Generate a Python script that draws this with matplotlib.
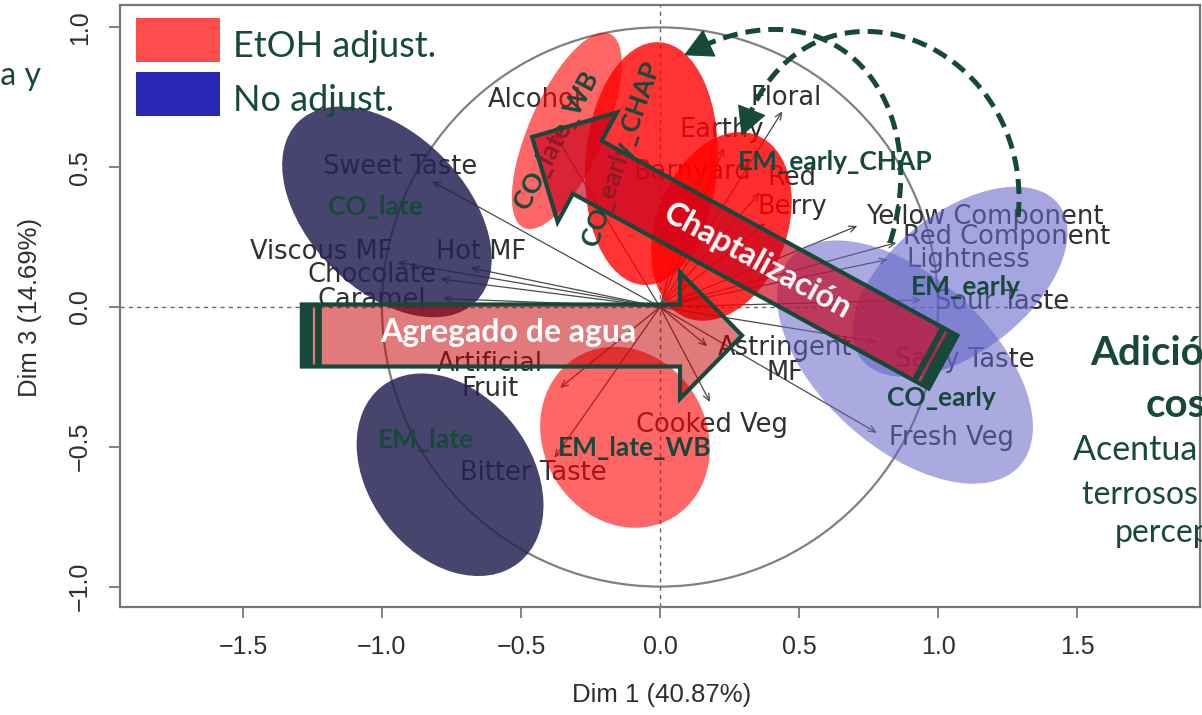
"""PCA biplot (Dim 1 vs Dim 3) with treatment ellipses and annotations."""

import matplotlib

matplotlib.use("Agg")
import matplotlib.pyplot as plt
import numpy as np
from matplotlib.patches import Circle, Ellipse, Polygon, Rectangle

GREEN = "#17493a"
SANS = "Lato"

# sensory / colour variables: arrow tips and label anchors
var_names = [
    "Sweet Taste", "Viscous MF", "Hot MF", "Chocolate", "Caramel", "Alcohol",
    "Floral", "Earthy", "Barnyard", "Red", "Berry", "Yellow Component",
    "Red Component", "Lightness", "Sour Taste", "Salty Taste", "Fresh Veg",
    "Astringent\nMF", "Artificial\nFruit", "Cooked Veg", "Bitter Taste",
]
var_x = [-0.82, -0.945, -0.68, -0.79, -0.78, -0.38, 0.44, 0.23, 0.12, 0.36, 0.38,
         0.71, 0.85, 0.82, 0.94, 0.78, 0.78, 0.17, -0.36, 0.18, -0.38]
var_y = [0.45, 0.16, 0.14, 0.10, 0.03, 0.62, 0.70, 0.57, 0.43, 0.41, 0.30,
         0.29, 0.23, 0.17, 0.025, -0.125, -0.45, -0.14, -0.29, -0.34, -0.54]
lab_x = [-0.935, -1.22, -0.644, -1.036, -1.036, -0.45, 0.453, 0.223, 0.115, 0.475, 0.475,
         1.169, 1.245, 1.108, 1.23, 1.097, 1.047, 0.45, -0.612, 0.187, -0.457]
lab_y = [0.50, 0.197, 0.197, 0.115, 0.025, 0.74, 0.747, 0.634, 0.483, 0.462, 0.358,
         0.322, 0.25, 0.168, 0.018, -0.19, -0.469, -0.19, -0.25, -0.422, -0.594]

# confidence ellipses of the wine groups
groups = ["CO_late", "EM_late", "CO_late_WB", "CO_early_CHAP",
          "EM_early_CHAP", "EM_late_WB", "EM_early", "CO_early"]
ell_x = [-0.982, -0.755, -0.335, -0.031, 0.221, -0.126, 1.079, 0.881]
ell_y = [0.340, -0.600, 0.630, 0.513, 0.288, -0.466, 0.090, -0.197]
ell_w = [0.906, 0.80, 0.76, 0.87, 0.70, 0.67, 0.90, 1.11]
ell_h = [0.561, 0.58, 0.27, 0.475, 0.47, 0.585, 0.50, 0.61]
ell_angle = [-45, -52, 66, 86, 69, -58, 38, -42]
ell_color = ["#272355", "#272355", "#ff0000", "#ff0000",
             "#ff0000", "#ff0000", "#6464c8", "#6464c8"]
ell_alpha = [0.85, 0.85, 0.60, 0.80, 0.82, 0.60, 0.58, 0.55]
grp_lab_x = [-1.025, -0.842, -0.374, -0.14, 0.629, -0.09, 1.101, 1.011]
grp_lab_y = [0.358, -0.476, 0.597, 0.55, 0.519, -0.505, 0.072, -0.326]
grp_lab_rot = [0, 0, 62, 71, 0, 0, 0, 0]

legend_labels = ["EtOH adjust.", "No adjust."]
legend_colors = ["#ff4c4c", "#2828b4"]

xticks = [-1.5, -1.0, -0.5, 0.0, 0.5, 1.0, 1.5]
yticks = [-1.0, -0.5, 0.0, 0.5, 1.0]


def fig_px(fig, x, y):
    w, h = fig.get_size_inches() * fig.dpi
    return x / w, 1 - y / h


def block_arrow(ax, tail, tip, half_w, head_half_w, head_len, face, text, text_xy):
    t = np.array(tail)
    p = np.array(tip)
    d = (p - t) / np.linalg.norm(p - t)
    n = np.array([-d[1], d[0]])
    base = p - d * head_len
    pts = [t + n * half_w, base + n * half_w, base + n * head_half_w, p,
           base - n * head_half_w, base - n * half_w, t - n * half_w]
    ax.add_patch(Polygon(pts, closed=True, fc=face, ec=GREEN, lw=3, zorder=5,
                         joinstyle="miter"))
    # striped tail
    for s0, s1 in [(0.0, 0.036), (0.049, 0.068)]:
        q = [t + d * s0 + n * half_w, t + d * s1 + n * half_w,
             t + d * s1 - n * half_w, t + d * s0 - n * half_w]
        ax.add_patch(Polygon(q, closed=True, fc=GREEN, ec=GREEN, lw=0.5, zorder=5.1))
    ang = np.degrees(np.arctan2(d[1], d[0]))
    if abs(ang) > 90:
        ang -= 180 * np.sign(ang)
    ax.text(*text_xy, text, ha="center", va="center", rotation=ang,
            rotation_mode="anchor", color="white", fontsize=23, fontweight="bold",
            family=SANS, zorder=6)


def bezier(p0, p1, p2, p3, t):
    t = np.asarray(t)[:, None]
    return ((1 - t) ** 3 * np.array(p0) + 3 * (1 - t) ** 2 * t * np.array(p1)
            + 3 * (1 - t) * t ** 2 * np.array(p2) + t ** 3 * np.array(p3))


def dashed_arc(ax, ctrl, head_len=0.095, head_half=0.05):
    pts = bezier(*ctrl, np.linspace(0, 1, 200))
    tip = np.array(ctrl[3])
    dist = np.linalg.norm(pts - tip, axis=1)
    body = pts[dist > head_len * 0.9]
    ax.plot(body[:, 0], body[:, 1], color=GREEN, lw=3.6, dashes=(3, 1.6),
            zorder=7, clip_on=False, dash_capstyle="butt")
    ref = pts[np.argmin(np.abs(dist - head_len))]
    d = (tip - ref) / np.linalg.norm(tip - ref)
    n = np.array([-d[1], d[0]])
    base = tip - d * head_len
    ax.add_patch(Polygon([tip, base + n * head_half, base - n * head_half], closed=True,
                         fc=GREEN, ec=GREEN, lw=0.8, zorder=7, clip_on=False))


def main() -> None:
    fig = plt.figure(figsize=(12.02, 7.15), dpi=100)
    ax = fig.add_axes([120 / 1202, 108 / 715, 1080 / 1202, 602 / 715])
    ax.set_xlim(-1.942, 1.942)
    ax.set_ylim(-1.073, 1.080)

    for sp in ax.spines.values():
        sp.set_color("#777777")
        sp.set_linewidth(1.6)
    ax.set_xticks(xticks)
    ax.set_xticklabels([f"{v:.1f}".replace("-", "\u2212") for v in xticks],
                       family="Liberation Sans", fontsize=18, color="#2e2e2e")
    ax.set_yticks(yticks)
    ax.set_yticklabels([f"{v:.1f}".replace("-", "\u2212") for v in yticks],
                       family="Liberation Sans", fontsize=18, color="#2e2e2e",
                       rotation=90, va="center")
    ax.tick_params(length=8, width=1.3, color="#777777", pad=12)

    ax.add_patch(Circle((0, 0), 1, fill=False, ec="#808080", lw=1.6, zorder=1))
    ax.axhline(0, color="#666666", lw=1, ls=(0, (3, 3)), zorder=1)
    ax.axvline(0, color="#666666", lw=1, ls=(0, (3, 3)), zorder=1)

    for name, x, y, lx, ly in zip(var_names, var_x, var_y, lab_x, lab_y):
        ax.annotate("", xy=(x, y), xytext=(0, 0), zorder=2,
                    arrowprops=dict(arrowstyle="->,head_length=0.5,head_width=0.22",
                                    color="#4a4a4a", lw=0.9, shrinkA=0, shrinkB=0))
        ax.text(lx, ly, name, ha="center", va="center", fontsize=18.5,
                family="DejaVu Sans", color="#303030", linespacing=0.95, zorder=2)

    for i, g in enumerate(groups):
        ax.add_patch(Ellipse((ell_x[i], ell_y[i]), ell_w[i], ell_h[i], angle=ell_angle[i],
                             fc=ell_color[i], alpha=ell_alpha[i], ec="none", zorder=3))
        ax.text(grp_lab_x[i], grp_lab_y[i], g, ha="center", va="center",
                rotation=grp_lab_rot[i], rotation_mode="anchor", fontsize=19,
                fontweight="bold", family=SANS, color=GREEN, zorder=4)

    block_arrow(ax, (-1.288, -0.102), (0.295, -0.102), 0.111, 0.226, 0.223,
                (0.78, 0.0, 0.0, 0.52), "Agregado de agua", (-0.547, -0.093))
    block_arrow(ax, (1.018, -0.197), (-0.460, 0.608), 0.108, 0.223, 0.226,
                (0.78, 0.02, 0.12, 0.68), "Chaptalización", (0.352, 0.165))

    dashed_arc(ax, [(0.827, 0.229), (0.989, 0.741), (0.626, 1.191), (0.090, 0.902)])
    dashed_arc(ax, [(1.288, 0.322), (1.349, 0.973), (0.504, 1.277), (0.295, 0.615)])

    # legend drawn in figure pixels
    for i, (lab, col) in enumerate(zip(legend_labels, legend_colors)):
        top = 18 + 54 * i
        x0, y0 = fig_px(fig, 136, top + 44)
        x1, y1 = fig_px(fig, 220, top)
        fig.add_artist(Rectangle((x0, y0), x1 - x0, y1 - y0, transform=fig.transFigure,
                                 fc=col, ec="none", zorder=10))
        fig.text(*fig_px(fig, 233, top + 39), lab, ha="left", va="baseline",
                 fontsize=26, family=SANS, color=GREEN, zorder=10)

    fig.text(*fig_px(fig, 662, 695), "Dim 1 (40.87%)", ha="center", va="center",
             fontsize=18.5, family="Liberation Sans", color="#2e2e2e")
    fig.text(*fig_px(fig, 30, 307), "Dim 3 (14.69%)", ha="center", va="center",
             rotation=90, fontsize=18.5, family="Liberation Sans", color="#2e2e2e")

    # side texts cut by the figure edges
    fig.text(*fig_px(fig, 41, 85), "fruta y", ha="right", va="baseline",
             fontsize=23, family=SANS, color=GREEN)
    fig.text(*fig_px(fig, 1090, 365), "Adición de azúcar", ha="left", va="baseline",
             fontsize=29, fontweight="bold", family=SANS, color=GREEN)
    fig.text(*fig_px(fig, 1146, 417), "cosecha", ha="left", va="baseline",
             fontsize=29, fontweight="bold", family=SANS, color=GREEN)
    fig.text(*fig_px(fig, 1073, 460), "Acentua los", ha="left", va="baseline",
             fontsize=24.5, family=SANS, color=GREEN)
    fig.text(*fig_px(fig, 1082, 504), "terrosos y", ha="left", va="baseline",
             fontsize=23, family=SANS, color=GREEN)
    fig.text(*fig_px(fig, 1115, 542), "percepción", ha="left", va="baseline",
             fontsize=23, family=SANS, color=GREEN)

    fig.savefig("out.png", dpi=100)
    plt.close(fig)


if __name__ == "__main__":
    main()
